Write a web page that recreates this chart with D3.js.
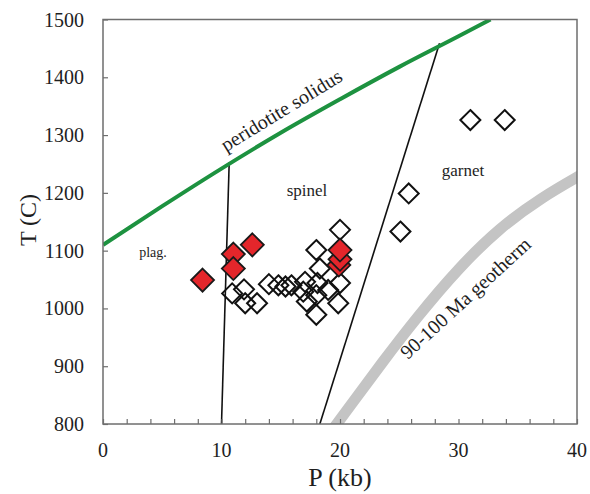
<!DOCTYPE html>
<html>
<head>
<meta charset="utf-8">
<script src="https://d3js.org/d3.v7.min.js"></script>
<style>
  html, body { margin: 0; padding: 0; background: #fff; }
  svg { display: block; }
</style>
</head>
<body>
<svg id="chart" width="590" height="494" font-family="'Liberation Serif', 'Times New Roman', Times, serif"></svg>
<script>
// Xenolith P-T estimates (P in kb, T in °C)
const openP = [10.9, 11.9, 12.0, 13.0, 14.0, 14.8, 15.4, 15.9, 16.9, 17.05, 17.2, 18.0, 18.0, 18.0, 18.1, 18.3, 19.0, 19.85, 20.0, 20.0, 25.1, 25.8, 31.0, 33.9];
const openT = [1026, 1033, 1009, 1009, 1042, 1040, 1038, 1040, 1029, 1046, 1012, 1101, 1023, 989, 1044, 1069, 1032, 1009, 1044, 1136, 1133, 1199, 1326, 1326];
const redP = [8.4, 11.0, 11.0, 12.6, 19.9, 20.0, 20.0];
const redT = [1049, 1094, 1069, 1110, 1075, 1085, 1101];

// Phase boundaries and reference curves
const solidusP = [0, 5, 10, 15, 20, 25, 30, 32.7];
const solidusT = [1110, 1177, 1242, 1304, 1362, 1418, 1471, 1500];
const plagSpinelP = [10.0, 10.65];
const plagSpinelT = [800, 1253];
const spinelGarnetP = [18.3, 28.4];
const spinelGarnetT = [800, 1459];
const geothermP = [19.0, 21.0, 23.5, 26.5, 30.0, 33.5, 37.0, 40.5];
const geothermT = [780, 835, 905, 985, 1070, 1140, 1192, 1233];

const xTicks = [0, 10, 20, 30, 40];
const yTicks = [800, 900, 1000, 1100, 1200, 1300, 1400, 1500];

const svg = d3.select("#chart");
const m = { left: 103, right: 577, top: 19.5, bottom: 424 };

const x = d3.scaleLinear().domain([0, 40]).range([m.left, m.right]);
const y = d3.scaleLinear().domain([800, 1500]).range([m.bottom, m.top]);

svg.append("defs").append("clipPath").attr("id", "plotClip")
  .append("rect")
  .attr("x", m.left).attr("y", m.top)
  .attr("width", m.right - m.left).attr("height", m.bottom - m.top);

const plot = svg.append("g").attr("clip-path", "url(#plotClip)");

const toPts = (ps, ts) => ps.map((p, i) => [x(p), y(ts[i])]);
const smooth = d3.line().curve(d3.curveBasis);
const straight = d3.line();

// geotherm band
plot.append("path")
  .attr("d", smooth(toPts(geothermP, geothermT)))
  .attr("fill", "none").attr("stroke", "#c4c4c4").attr("stroke-width", 11);

// phase boundaries
plot.append("path")
  .attr("d", straight(toPts(plagSpinelP, plagSpinelT)))
  .attr("fill", "none").attr("stroke", "#111").attr("stroke-width", 1.6);
plot.append("path")
  .attr("d", straight(toPts(spinelGarnetP, spinelGarnetT)))
  .attr("fill", "none").attr("stroke", "#111").attr("stroke-width", 1.6);

// peridotite solidus
plot.append("path")
  .attr("d", d3.line().curve(d3.curveMonotoneX)(toPts(solidusP, solidusT)))
  .attr("fill", "none").attr("stroke", "#1d9240").attr("stroke-width", 4);

// diamond markers
const diamond = r => `M0,${-r}L${r},0L0,${r}L${-r},0Z`;

plot.selectAll(".open").data(openP.map((p, i) => [p, openT[i]])).join("path")
  .attr("class", "open")
  .attr("transform", d => `translate(${x(d[0])},${y(d[1])})`)
  .attr("d", diamond(10))
  .attr("fill", "none").attr("stroke", "#111").attr("stroke-width", 2);

plot.selectAll(".red").data(redP.map((p, i) => [p, redT[i]])).join("path")
  .attr("class", "red")
  .attr("transform", d => `translate(${x(d[0])},${y(d[1])})`)
  .attr("d", diamond(11.5))
  .attr("fill", "#e4262b").attr("stroke", "#1a1a1a").attr("stroke-width", 1.8);

const ink = "#1e1e1e";

// region labels
svg.append("text").attr("x", 285).attr("y", 116)
  .attr("transform", "rotate(-31.5,285,116)")
  .attr("text-anchor", "middle").attr("font-size", 20).attr("fill", ink).text("peridotite solidus");
svg.append("text").attr("x", 307).attr("y", 196)
  .attr("text-anchor", "middle").attr("font-size", 17).attr("fill", ink).text("spinel");
svg.append("text").attr("x", 463).attr("y", 176)
  .attr("text-anchor", "middle").attr("font-size", 17).attr("fill", ink).text("garnet");
svg.append("text").attr("x", 153).attr("y", 257)
  .attr("text-anchor", "middle").attr("font-size", 14).attr("fill", ink).text("plag.");
svg.append("text").attr("x", 470).attr("y", 303)
  .attr("transform", "rotate(-42.5,470,303)")
  .attr("text-anchor", "middle").attr("font-size", 20).attr("fill", ink).text("90-100 Ma geotherm");

// frame
svg.append("rect")
  .attr("x", m.left).attr("y", m.top)
  .attr("width", m.right - m.left).attr("height", m.bottom - m.top)
  .attr("fill", "none").attr("stroke", "#6e6e6e").attr("stroke-width", 1.5);

// axes with inward ticks
const xAxis = svg.append("g").attr("transform", `translate(0,${m.bottom})`)
  .call(d3.axisBottom(x).tickValues(d3.range(0, 41, 2)).tickSize(-5).tickFormat(""));
const yAxis = svg.append("g").attr("transform", `translate(${m.left},0)`)
  .call(d3.axisLeft(y).tickValues(yTicks).tickSize(-5).tickFormat(""));
[xAxis, yAxis].forEach(g => {
  g.select(".domain").remove();
  g.selectAll("line").attr("stroke", "#6e6e6e").attr("stroke-width", 1.2);
});

svg.selectAll(".xlab").data(xTicks).join("text")
  .attr("x", d => x(d)).attr("y", 457)
  .attr("text-anchor", "middle").attr("font-size", 20).attr("fill", ink).text(d => d);
svg.selectAll(".ylab").data(yTicks).join("text")
  .attr("x", 84).attr("y", d => y(d) + 7)
  .attr("text-anchor", "end").attr("font-size", 20).attr("fill", ink).text(d => d);

// axis titles
svg.append("text").attr("x", 340).attr("y", 486)
  .attr("text-anchor", "middle").attr("font-size", 26).attr("fill", ink).text("P (kb)");
svg.append("text").attr("transform", "translate(36,220) rotate(-90)")
  .attr("text-anchor", "middle").attr("font-size", 24).attr("fill", ink).text("T (C)");
</script>
</body>
</html>
